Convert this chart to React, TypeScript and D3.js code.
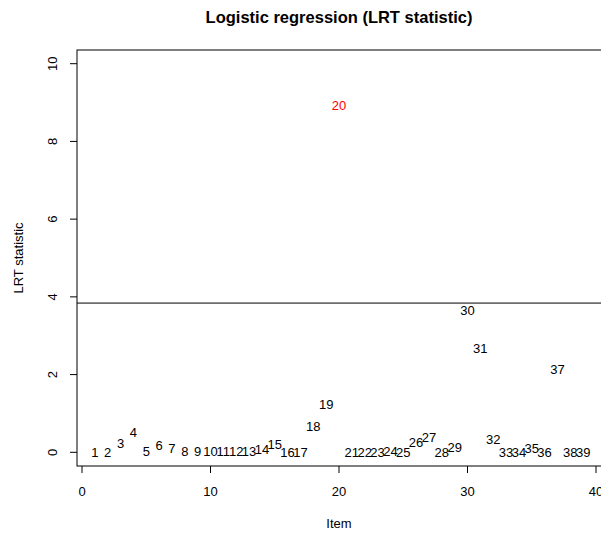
import React from "react";
import * as d3 from "d3";

const items: number[] = Array.from({ length: 39 }, (_, i) => i + 1);
const lrtValues: number[] = [
  0.0, 0.0, 0.22, 0.51, 0.01, 0.18, 0.09, 0.01, 0.01, 0.01,
  0.01, 0.01, 0.02, 0.08, 0.21, 0.0, 0.0, 0.66, 1.22, 8.93,
  0.0, 0.0, 0.0, 0.03, 0.0, 0.24, 0.37, 0.0, 0.12, 3.65,
  2.68, 0.32, 0.0, 0.0, 0.11, 0.0, 2.14, 0.0, 0.0,
];
const flaggedItems: number[] = [20];
const threshold = 3.84;
const xTicks: number[] = [0, 10, 20, 30, 40];
const yTicks: number[] = [0, 2, 4, 6, 8, 10];

const W = 601;
const H = 533;
const left = 77;
const right = 601;
const top = 50;
const bottom = 466;

export default function App() {
  const x = d3.scaleLinear().domain([0, 40]).range([82, 596]);
  const y = d3.scaleLinear().domain([0, 10]).range([452.3, 63.7]);
  const font = "'Liberation Sans', Arial, Helvetica, sans-serif";
  const axisColor = "#000";
  return (
    <svg
      width={W}
      height={H}
      style={{ position: "absolute", left: 0, top: 0, background: "#fff" }}
      fontFamily={font}
    >
      <rect x={0} y={0} width={W} height={H} fill="#fff" />
      {/* box */}
      <rect
        x={left}
        y={top}
        width={right - left + 2}
        height={bottom - top}
        fill="none"
        stroke={axisColor}
        strokeWidth={1}
      />
      {/* threshold line */}
      <line
        x1={left}
        x2={right + 2}
        y1={y(threshold)}
        y2={y(threshold)}
        stroke={axisColor}
        strokeWidth={1}
      />
      {/* y axis */}
      {yTicks.map((t) => (
        <g key={"y" + t}>
          <line x1={left - 7} x2={left} y1={y(t)} y2={y(t)} stroke={axisColor} />
          <text
            transform={`translate(${52},${y(t)}) rotate(-90)`}
            textAnchor="middle"
            dominantBaseline="central"
            fontSize={13}
            fill="#000"
          >
            {t}
          </text>
        </g>
      ))}
      {/* x axis */}
      {xTicks.map((t) => (
        <g key={"x" + t}>
          <line x1={x(t)} x2={x(t)} y1={bottom} y2={bottom + 7} stroke={axisColor} />
          <text
            x={x(t)}
            y={491}
            textAnchor="middle"
            dominantBaseline="central"
            fontSize={13}
            fill="#000"
          >
            {t}
          </text>
        </g>
      ))}
      {/* point labels */}
      {items.map((it, i) => (
        <text
          key={"p" + it}
          x={x(it)}
          y={y(lrtValues[i])}
          textAnchor="middle"
          dominantBaseline="central"
          fontSize={13}
          fill={flaggedItems.includes(it) ? "#ff0000" : "#000"}
        >
          {it}
        </text>
      ))}
      {/* titles */}
      <text
        x={(left + right) / 2}
        y={17}
        textAnchor="middle"
        dominantBaseline="central"
        fontSize={16.5}
        fontWeight="bold"
        fill="#000"
      >
        Logistic regression (LRT statistic)
      </text>
      <text
        x={(left + right) / 2}
        y={523}
        textAnchor="middle"
        dominantBaseline="central"
        fontSize={13}
        fill="#000"
      >
        Item
      </text>
      <text
        transform={`translate(${18},${(top + bottom) / 2}) rotate(-90)`}
        textAnchor="middle"
        dominantBaseline="central"
        fontSize={13}
        fill="#000"
      >
        LRT statistic
      </text>
    </svg>
  );
}
